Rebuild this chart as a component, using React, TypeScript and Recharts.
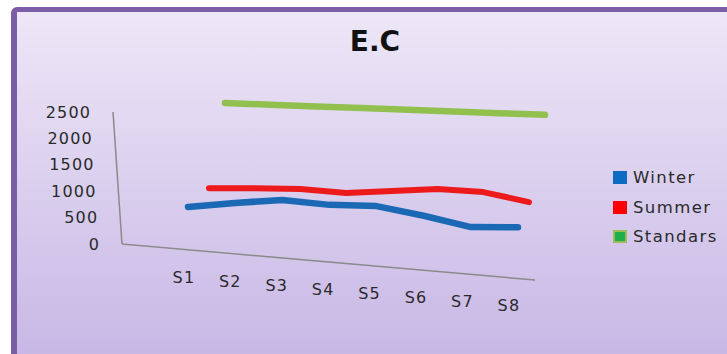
import { LineChart, Line, XAxis, YAxis } from "recharts";

const categories = ["S1", "S2", "S3", "S4", "S5", "S6", "S7", "S8"];
const winter = [750, 860, 950, 890, 900, 750, 570, 600];
const summer = [970, 1000, 1020, 975, 1045, 1115, 1090, 930];
const standards = [2500, 2500, 2500, 2500, 2500, 2500, 2500, 2500];
const yTicks = [0, 500, 1000, 1500, 2000, 2500];

const data = categories.map((name, i) => ({
  name,
  Winter: winter[i],
  Summer: summer[i],
  Standars: standards[i],
}));

const W = 727;
const H = 354;
const FONT = "'DejaVu Sans', sans-serif";

// each series sits in its own depth plane (back to front)
const planes = [
  { key: "Standars", color: "#92c04f", left: 225, right: 545, top: 103, floor: 230.5, width: 6.5 },
  { key: "Summer", color: "#ec1a1a", left: 209, right: 529, top: 108.6, floor: 238.6, width: 6 },
  { key: "Winter", color: "#1b69b5", left: 188, right: 518, top: 114.3, floor: 246.8, width: 6.5 },
];
const PLANE_SLOPE = 0.037;

const legend = [
  { name: "Winter", fill: "#0d6cc2", border: "#0d6cc2" },
  { name: "Summer", fill: "#ff0000", border: "#ff0000" },
  { name: "Standars", fill: "#1db04a", border: "#9bbb59" },
];

// front plane: floor slants down to the right, value axis leans left
const AX = { left: 122, right: 535, top: 112, floor: 244 };
const SHEAR_Y = 36 / 413;
const SHEAR_X = 9 / 132;
const det = 1 - SHEAR_X * SHEAR_Y;
const INV = [1 / det, -SHEAR_Y / det, -SHEAR_X / det, 1 / det].join(" ");

const FrontTick = (props: any) => {
  const { x, y, payload, kind } = props;
  const tx = kind === "x" ? x : x - 22;
  const ty = kind === "x" ? y + 28 : y + 2;
  return (
    <text
      x={tx}
      y={ty}
      dy="0.35em"
      textAnchor={kind === "x" ? "middle" : "end"}
      transform={`translate(${tx} ${ty}) matrix(${INV} 0 0) translate(${-tx} ${-ty})`}
      fill="#2a2a2a"
      fontSize={16}
      fontFamily={FONT}
      letterSpacing={1.2}
    >
      {payload.value}
    </text>
  );
};

const layer: React.CSSProperties = { position: "absolute", left: 0, top: 0, width: W, height: H };

const Plane = ({ p }: { p: (typeof planes)[number] }) => (
  <div
    style={{
      ...layer,
      transform: `skewY(${Math.atan(PLANE_SLOPE)}rad)`,
      transformOrigin: `${p.left}px 0px`,
    }}
  >
    <LineChart
      width={W}
      height={H}
      data={data}
      margin={{ left: p.left, right: W - p.right, top: p.top, bottom: H - p.floor }}
    >
      <XAxis dataKey="name" hide />
      <YAxis hide domain={[0, 2500]} ticks={yTicks} tickCount={6} />
      <Line
        dataKey={p.key}
        stroke={p.color}
        strokeWidth={p.width}
        strokeLinecap="round"
        strokeLinejoin="round"
        dot={false}
        isAnimationActive={false}
      />
    </LineChart>
  </div>
);

export default function App() {
  return (
    <div style={{ position: "absolute", left: 0, top: 0, width: W, height: H, overflow: "hidden", background: "#fff" }}>
      <div
        style={{
          position: "absolute",
          left: 11,
          top: 7,
          width: W,
          height: H,
          borderLeft: "6px solid #7b5ea7",
          borderTop: "5px solid #7b5ea7",
          borderTopLeftRadius: 6,
          background: "linear-gradient(180deg, #ede7f7 0%, #c7b6e5 100%)",
        }}
      />
      <div
        style={{
          position: "absolute",
          left: 0,
          top: 28,
          width: 750,
          textAlign: "center",
          fontFamily: FONT,
          fontWeight: "bold",
          fontSize: 28,
          lineHeight: "28px",
          color: "#111",
        }}
      >
        E.C
      </div>

      <div
        style={{
          ...layer,
          transform: `matrix(1, ${SHEAR_Y}, ${SHEAR_X}, 1, 0, 0)`,
          transformOrigin: `${AX.left}px ${AX.floor}px`,
        }}
      >
        <LineChart
          width={W}
          height={H}
          data={data}
          margin={{ left: AX.left - 60, right: W - AX.right, top: AX.top, bottom: H - AX.floor - 40 }}
        >
          <XAxis
            dataKey="name"
            height={40}
            padding={{ left: 60, right: 28 }}
            interval={0}
            tickLine={false}
            tickSize={0}
            tickMargin={0}
            axisLine={{ stroke: "#8a8a8a", strokeWidth: 1.5 }}
            tick={<FrontTick kind="x" />}
          />
          <YAxis
            width={60}
            domain={[0, 2500]}
            ticks={yTicks}
            tickCount={6}
            interval={0}
            tickLine={false}
            tickSize={0}
            tickMargin={0}
            axisLine={{ stroke: "#8a8a8a", strokeWidth: 1.5 }}
            tick={<FrontTick kind="y" />}
          />
          {/* invisible series so the value axis gets its ticks */}
          <Line dataKey="Winter" stroke="none" dot={false} activeDot={false} isAnimationActive={false} />
        </LineChart>
      </div>

      {planes.map((p) => (
        <Plane key={p.key} p={p} />
      ))}

      <div style={{ position: "absolute", left: 613, top: 163, fontFamily: FONT, fontSize: 16.5, color: "#2a2a2a" }}>
        {legend.map((l) => (
          <div key={l.name} style={{ display: "flex", alignItems: "center", height: 29.5, letterSpacing: 1.4 }}>
            <span
              style={{
                display: "inline-block",
                width: 10,
                height: 9,
                background: l.fill,
                border: `2px solid ${l.border}`,
                marginRight: 6,
              }}
            />
            {l.name}
          </div>
        ))}
      </div>
    </div>
  );
}
